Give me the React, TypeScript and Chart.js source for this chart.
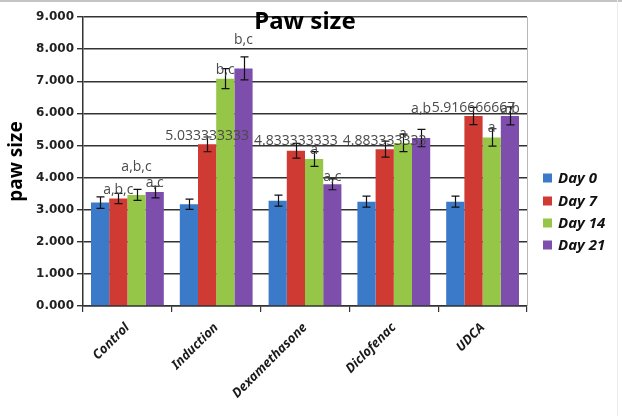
import React, { useEffect, useRef } from "react";
import { Chart, registerables } from "chart.js";

Chart.register(...registerables);

// ---- data ----
const categories = ["Control", "Induction", "Dexamethasone", "Diclofenac", "UDCA"];
const seriesNames = ["Day 0", "Day 7", "Day 14", "Day 21"];

const day0 = [3.22, 3.17, 3.28, 3.25, 3.25];
const day7 = [3.35, 5.033333333, 4.833333333, 4.883333333, 5.916666667];
const day14 = [3.46, 7.08, 4.58, 5.08, 5.25];
const day21 = [3.55, 7.4, 3.79, 5.23, 5.92];

// standard errors
const err0 = [0.18, 0.16, 0.17, 0.17, 0.17];
const err7 = [0.16, 0.23, 0.23, 0.25, 0.27];
const err14 = [0.17, 0.31, 0.23, 0.27, 0.27];
const err21 = [0.18, 0.36, 0.17, 0.27, 0.28];

// significance annotations; VALUE prints the bar's own value
const VALUE = "__value__";
const note0: (string | null)[] = [null, null, null, null, null];
const note7: (string | null)[] = ["a,b,c", VALUE, VALUE, VALUE, VALUE];
const note14: (string | null)[] = ["a,b,c", "b,c", "a", "a", "a"];
const note21: (string | null)[] = ["a,c", "b,c", "a,c", "a,b", "a,b"];

const yTicks = [0, 1, 2, 3, 4, 5, 6, 7, 8, 9];

// ---- styling ----
const colors = ["#3a7ac8", "#cf3a33", "#95c647", "#7d4eab"];
// vertical nudge (px) of each annotation relative to its error-bar cap
const noteShift = [
  [0, 0, 0, 0, 0],
  [-3, -1, -2, 0, 1],
  [-22, 1, -2, 0, -1],
  [-3, -17, -2, -20, 2],
];

const values = [day0, day7, day14, day21];
const errors = [err0, err7, err14, err21];
const notes = [note0, note7, note14, note21];

const W = 622;
const H = 416;
const AREA_LEFT = 83;
const AREA_RIGHT = 527;
const AREA_TOP = 17;
const AREA_BOTTOM = 306;

const decorPlugin = {
  id: "decor",
  beforeDraw(chart: any) {
    const { ctx } = chart;
    ctx.save();
    ctx.fillStyle = "#ffffff";
    ctx.fillRect(0, 0, chart.width, chart.height);
    // frame lines of the sheet
    ctx.fillStyle = "#c4c4c4";
    ctx.fillRect(0, 0, chart.width, 2);
    ctx.fillStyle = "#ececec";
    ctx.fillRect(617, 0, 1, chart.height);
    ctx.restore();
  },
  afterDatasetsDraw(chart: any) {
    const { ctx, chartArea } = chart;
    const yScale = chart.scales.y;
    ctx.save();
    // right edge of the plot area
    ctx.strokeStyle = "#b8b8b8";
    ctx.lineWidth = 1;
    ctx.beginPath();
    ctx.moveTo(chartArea.right + 0.5, chartArea.top);
    ctx.lineTo(chartArea.right + 0.5, chartArea.bottom);
    ctx.stroke();

    // error bars
    ctx.strokeStyle = "#111111";
    ctx.lineWidth = 1.2;
    values.forEach((series, di) => {
      const meta = chart.getDatasetMeta(di);
      meta.data.forEach((bar: any, i: number) => {
        const v = series[i];
        const e = errors[di][i];
        const top = yScale.getPixelForValue(v + e);
        const bot = yScale.getPixelForValue(v - e);
        const x = Math.round(bar.x) + 0.5;
        ctx.beginPath();
        ctx.moveTo(x, top);
        ctx.lineTo(x, bot);
        ctx.moveTo(x - 4, top);
        ctx.lineTo(x + 4, top);
        ctx.moveTo(x - 4, bot);
        ctx.lineTo(x + 4, bot);
        ctx.stroke();
      });
    });

    // annotations
    ctx.font = "14px 'Open Sans', 'Noto Sans', sans-serif";
    ctx.fillStyle = "#4a4a4a";
    ctx.textAlign = "center";
    ctx.textBaseline = "middle";
    values.forEach((series, di) => {
      const meta = chart.getDatasetMeta(di);
      meta.data.forEach((bar: any, i: number) => {
        const n = notes[di][i];
        if (!n) return;
        const text = n === VALUE ? String(series[i]) : n;
        const y = yScale.getPixelForValue(series[i] + errors[di][i]) + noteShift[di][i];
        ctx.fillText(text, bar.x, y);
      });
    });

    ctx.restore();
  },
  afterDraw(chart: any) {
    const { ctx, chartArea } = chart;
    ctx.save();
    // title
    ctx.fillStyle = "#000000";
    ctx.font = "bold 24px 'Noto Sans', sans-serif";
    ctx.textAlign = "center";
    ctx.textBaseline = "alphabetic";
    ctx.fillText("Paw size", (chartArea.left + chartArea.right) / 2, 29);

    // y-axis title
    ctx.save();
    ctx.translate(22, (chartArea.top + chartArea.bottom) / 2);
    ctx.rotate(-Math.PI / 2);
    ctx.font = "bold 19px 'Noto Sans', sans-serif";
    ctx.textAlign = "center";
    ctx.textBaseline = "alphabetic";
    ctx.fillText("paw size", 0, 0);
    ctx.restore();

    // legend
    const lx = 543;
    const rows = [178, 201, 223, 245];
    ctx.font = "italic bold 15px 'Noto Sans', sans-serif";
    ctx.textAlign = "left";
    ctx.textBaseline = "middle";
    seriesNames.forEach((name, i) => {
      ctx.fillStyle = colors[i];
      ctx.fillRect(lx, rows[i] - 4.5, 9, 9);
      ctx.fillStyle = "#111111";
      ctx.fillText(name, lx + 15, rows[i] + 1);
    });
    ctx.restore();
  },
};

export default function App() {
  const canvasRef = useRef<HTMLCanvasElement | null>(null);

  useEffect(() => {
    const canvas = canvasRef.current;
    if (!canvas) return;
    const chart = new Chart(canvas, {
      type: "bar",
      data: {
        labels: categories,
        datasets: values.map((series, i) => ({
          label: seriesNames[i],
          data: series,
          backgroundColor: colors[i],
          borderWidth: 0,
          categoryPercentage: 0.82,
          barPercentage: 1.0,
        })),
      },
      options: {
        responsive: false,
        animation: false,
        devicePixelRatio: 1,
        layout: {
          padding: { left: 0, top: AREA_TOP, right: W - AREA_RIGHT, bottom: 0 },
        },
        plugins: {
          legend: { display: false },
          title: { display: false },
          tooltip: { enabled: false },
        },
        scales: {
          x: {
            offset: true,
            grid: {
              offset: true,
              drawOnChartArea: false,
              drawTicks: true,
              tickLength: 6,
              color: "#333333",
              lineWidth: 1.2,
            },
            border: { display: true, color: "#333333", width: 1.5 },
            ticks: {
              autoSkip: false,
              minRotation: 45,
              maxRotation: 45,
              padding: 8,
              color: "#1a1a1a",
              font: { family: "'Noto Sans', sans-serif", size: 13, style: "italic", weight: "bold" },
            },
            afterFit(scale: any) {
              scale.height = H - AREA_BOTTOM;
            },
          },
          y: {
            min: yTicks[0],
            max: yTicks[yTicks.length - 1],
            afterBuildTicks(scale: any) {
              scale.ticks = yTicks.map((v) => ({ value: v }));
            },
            grid: {
              color: "#333333",
              lineWidth: 1.4,
              drawTicks: true,
              tickLength: 6,
            },
            border: { display: true, color: "#333333", width: 1.5 },
            ticks: {
              padding: 3,
              color: "#222222",
              font: { family: "'DejaVu Sans', sans-serif", size: 12, weight: "bold" },
              callback: (v: any) => Number(v).toFixed(3),
            },
            afterFit(scale: any) {
              scale.width = AREA_LEFT;
            },
          },
        },
      },
      plugins: [decorPlugin],
    });
    return () => chart.destroy();
  }, []);

  return (
    <div style={{ position: "fixed", left: 0, top: 0, width: W, height: H, background: "#ffffff" }}>
      <canvas ref={canvasRef} width={W} height={H} style={{ display: "block", width: W, height: H }} />
    </div>
  );
}
